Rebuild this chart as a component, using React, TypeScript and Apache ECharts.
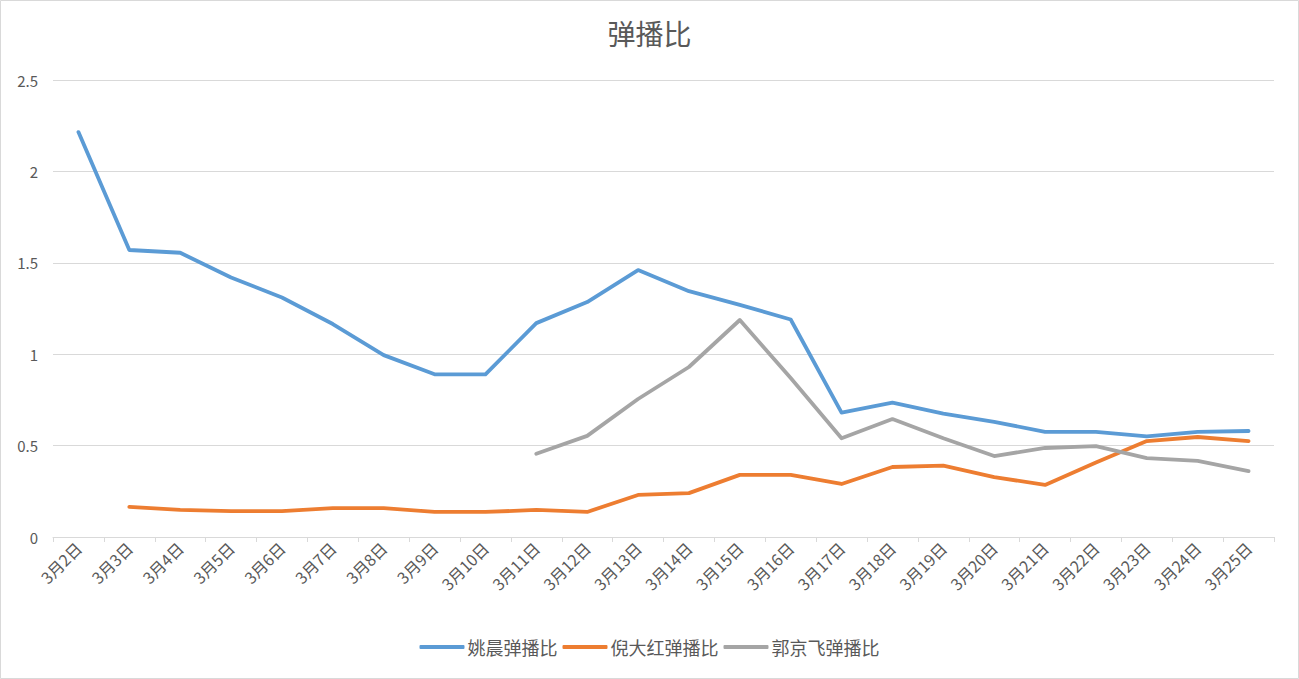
import React, { useEffect, useRef } from "react";
import * as echarts from "echarts";

const categories = [
  "3月2日", "3月3日", "3月4日", "3月5日", "3月6日", "3月7日", "3月8日", "3月9日",
  "3月10日", "3月11日", "3月12日", "3月13日", "3月14日", "3月15日", "3月16日", "3月17日",
  "3月18日", "3月19日", "3月20日", "3月21日", "3月22日", "3月23日", "3月24日", "3月25日",
];

const yaoChen = [
  2.215, 1.57, 1.555, 1.42, 1.31, 1.165, 0.995, 0.89, 0.89, 1.17, 1.285, 1.46,
  1.345, 1.27, 1.19, 0.68, 0.735, 0.675, 0.63, 0.575, 0.575, 0.55, 0.575, 0.58,
];

const niDaHong = [
  null, 0.165, 0.148, 0.142, 0.142, 0.158, 0.158, 0.137, 0.137, 0.148, 0.137, 0.23,
  0.24, 0.34, 0.34, 0.29, 0.383, 0.39, 0.328, 0.285, 0.408, 0.525, 0.547, 0.525,
];

const guoJingFei = [
  null, null, null, null, null, null, null, null, null, 0.455, 0.553, 0.755,
  0.93, 1.187, 0.87, 0.54, 0.645, 0.54, 0.443, 0.487, 0.497, 0.432, 0.416, 0.36,
];

const seriesNames = ["姚晨弹播比", "倪大红弹播比", "郭京飞弹播比"];
const colors = ["#5B9BD5", "#ED7D31", "#A5A5A5"];

const FONT = "'Noto Sans CJK SC', 'Noto Sans', sans-serif";

export default function App() {
  const ref = useRef<HTMLDivElement>(null);

  useEffect(() => {
    if (!ref.current) return;
    const chart = echarts.init(ref.current, undefined, { renderer: "svg" });
    const datasets = [yaoChen, niDaHong, guoJingFei];
    chart.setOption({
      animation: false,
      backgroundColor: "#ffffff",
      title: {
        text: "弹播比",
        left: "center",
        top: 14,
        textStyle: { fontFamily: FONT, fontSize: 28, fontWeight: "normal", color: "#595959" },
      },
      graphic: [
        {
          type: "rect",
          shape: { x: 0.5, y: 0.5, width: 1298, height: 678 },
          style: { fill: "none", stroke: "#d9d9d9", lineWidth: 1 },
          silent: true,
        },
      ],
      legend: {
        bottom: 18,
        left: "center",
        itemGap: 5,
        itemWidth: 45,
        itemHeight: 4,
        icon: "roundRect",
        textStyle: { fontFamily: FONT, fontSize: 18, color: "#595959", padding: [0, 0, 0, -2] },
        data: seriesNames,
      },
      grid: { left: 53, right: 25, top: 80, bottom: 142, containLabel: false },
      xAxis: {
        type: "category",
        data: categories,
        boundaryGap: true,
        axisLine: { lineStyle: { color: "#d9d9d9", width: 1 } },
        axisTick: { show: true, length: 5, lineStyle: { color: "#d9d9d9" }, alignWithLabel: false },
        axisLabel: {
          rotate: 45,
          interval: 0,
          margin: 8,
          fontFamily: FONT,
          fontSize: 16,
          color: "#595959",
        },
      },
      yAxis: {
        type: "value",
        min: 0,
        max: 2.5,
        interval: 0.5,
        axisLine: { show: false },
        axisTick: { show: false },
        splitLine: { lineStyle: { color: "#d9d9d9", width: 1 } },
        axisLabel: { fontFamily: FONT, fontSize: 15, color: "#595959", margin: 15 },
      },
      series: datasets.map((d, i) => ({
        name: seriesNames[i],
        type: "line",
        data: d,
        showSymbol: false,
        symbol: "none",
        connectNulls: false,
        lineStyle: { color: colors[i], width: 3.8, cap: "round", join: "round" },
        itemStyle: { color: colors[i] },
      })),
    });
    return () => chart.dispose();
  }, []);

  return (
    <div
      ref={ref}
      style={{ position: "fixed", left: 0, top: 0, width: 1299, height: 679 }}
    />
  );
}
